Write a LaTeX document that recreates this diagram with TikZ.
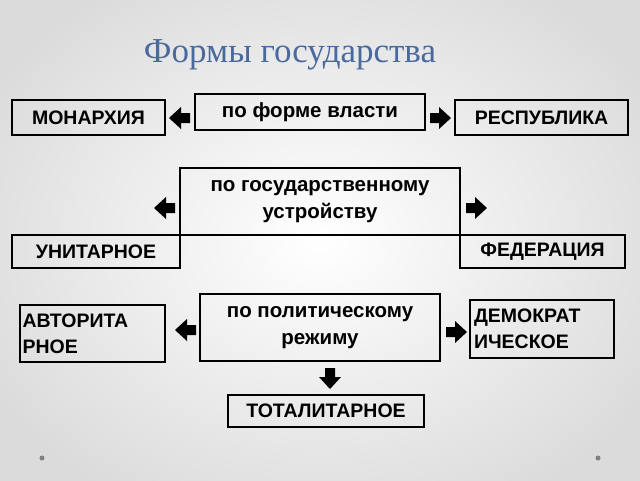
\documentclass[tikz,border=0pt]{standalone}
\usepackage{fontspec}
\setmainfont{Liberation Sans}
\newfontfamily\titlefont{Liberation Serif}
\definecolor{titleblue}{HTML}{4A6A9E}
\begin{document}
\begin{tikzpicture}[x=1pt,y=-1pt,
  box/.style={draw=black,line width=1.3pt,inner sep=0pt,font=\bfseries\fontsize{20.5}{27}\selectfont,align=center},
  capbox/.style={draw=black,line width=1.3pt,inner sep=0pt,font=\bfseries\fontsize{19.5}{26}\selectfont,align=left},
  pics/barrow/.style={code={\fill[black] (0,-5)--(9,-5)--(9,-11)--(21,0)--(9,11)--(9,5)--(0,5)--cycle;}}]
\useasboundingbox (0,0) rectangle (640,480);
\begin{scope}
\clip (0,0) rectangle (640,480);
\shade[inner color=white,outer color=black!14] (-60,-60) rectangle (700,540);
\end{scope}
\node[text=titleblue,font=\titlefont\fontsize{35}{40}\selectfont] (title) at (290,55) {Формы государства};
\fill[gray] (42,458) circle (2.5) (598,458) circle (2.5);
% row 1
\node[box,minimum width=230,minimum height=36] (vlast) at (310,112) {по форме власти};
\node[capbox,minimum width=153,minimum height=35,align=center] (mon) at (88.5,117.5) {МОНАРХИЯ};
\node[capbox,minimum width=173,minimum height=35,align=center] (resp) at (541.5,117.5) {РЕСПУБЛИКА};
\pic[rotate=180] at (190,118) {barrow};
\pic at (430,118) {barrow};
% row 2
\node[capbox,minimum width=168,minimum height=33,align=center] (unit) at (96,251.5) {УНИТАРНОЕ};
\node[capbox,minimum width=165,minimum height=33,align=center] (fed) at (542.5,251.5) {ФЕДЕРАЦИЯ};
\node[box,minimum width=280,minimum height=67] (ustr) at (320,201.5) {по государственному\\устройству};
\pic[rotate=180] at (175,208) {barrow};
\pic at (466,208) {barrow};
% row 3
\node[box,minimum width=240,minimum height=67] (rezh) at (320,327.5) {по политическому\\режиму};
\node[capbox,minimum width=145,minimum height=57,text width=140] (avt) at (92.5,333.5) {АВТОРИТА\\РНОЕ};
\node[capbox,minimum width=144,minimum height=58,text width=136] (dem) at (542,329) {ДЕМОКРАТ\\ИЧЕСКОЕ};
\node[capbox,minimum width=196,minimum height=32,align=center] (tot) at (326,411) {ТОТАЛИТАРНОЕ};
\pic[rotate=180] at (196,330) {barrow};
\pic at (446,332) {barrow};
\pic[rotate=-90] at (330,368) {barrow};
\end{tikzpicture}
\end{document}
